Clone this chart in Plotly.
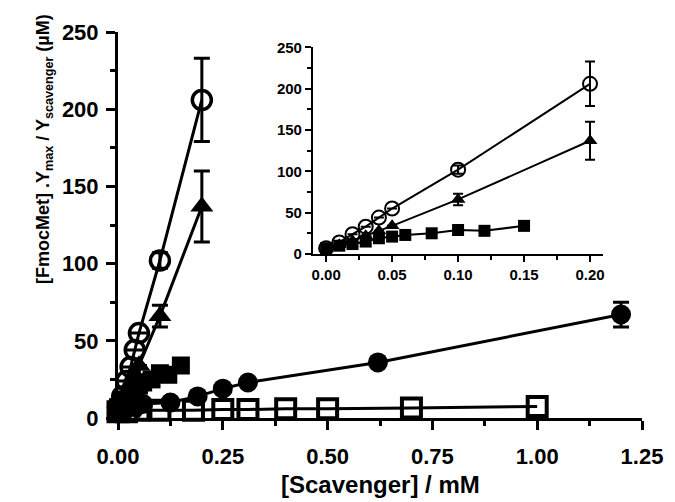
import plotly.graph_objects as go

# ---- data ----
oc_x = [0, 0.01, 0.02, 0.03, 0.04, 0.05, 0.1, 0.2]
oc_y = [7, 14, 24, 33, 44, 55, 102, 206]
oc_err = [0, 0, 0, 0, 0, 0, 5, 27]

tri_x = [0, 0.01, 0.02, 0.03, 0.04, 0.05, 0.1, 0.2]
tri_y = [6, 11, 16, 22, 28, 34, 66, 137]
tri_err = [0, 0, 0, 0, 0, 0, 7, 23]

sq_x = [0, 0.01, 0.02, 0.03, 0.04, 0.05, 0.06, 0.08, 0.1, 0.12, 0.15]
sq_y = [7, 10, 12, 15, 19, 21, 23, 25, 29, 28, 34]

fc_x = [0, 0.02, 0.04, 0.06, 0.125, 0.19, 0.25, 0.31, 0.62, 1.2]
fc_y = [5, 6, 7, 9, 10, 14, 19, 23, 36, 67]
fc_err = [0, 0, 0, 0, 0, 0, 0, 0, 0, 8]

os_x = [0, 0.02, 0.05, 0.1, 0.18, 0.25, 0.31, 0.4, 0.5, 0.7, 1.0]
os_y = [4, 4, 5, 5, 5, 5.5, 5.5, 6, 6, 6.5, 7.5]

dt_x = [0, 0.01, 0.02, 0.05]
dt_y = [3, 3.5, 4, 4.5]

main_xticks = [0, 0.25, 0.5, 0.75, 1.0, 1.25]
main_yticks = [0, 50, 100, 150, 200, 250]
inset_xticks = [0.0, 0.05, 0.10, 0.15, 0.20]
inset_yticks = [0, 50, 100, 150, 200, 250]

x_title = "[Scavenger] / mM"
y_title = "[FmocMet] .Y<sub>max</sub> / Y<sub>scavenger</sub> (µM)"

FONT = "Liberation Sans"
fig = go.Figure()


def add(x, y, sym, size, lw, err=None, mlw=3.5, xa="x", ya="y", cap=8, eth=3):
    tr = go.Scatter(
        x=x, y=y, mode="lines+markers", xaxis=xa, yaxis=ya, cliponaxis=False,
        line=dict(color="black", width=lw),
        marker=dict(symbol=sym, size=size, color="black",
                    line=dict(color="black", width=mlw)),
        showlegend=False, hoverinfo="x+y",
    )
    if err is not None:
        tr.error_y = dict(type="data", array=err, color="black", thickness=eth, width=cap, visible=True)
    fig.add_trace(tr)


# main plot
add(os_x, os_y, "square-open", 19, 3, mlw=4)
add(dt_x, dt_y, "triangle-down", 15, 3, mlw=0)
add(fc_x, fc_y, "circle", 20, 3, err=fc_err, mlw=0)
add(sq_x, sq_y, "square", 18, 3, mlw=0)
add(tri_x, tri_y, "triangle-up", 20, 3, err=tri_err, mlw=0)
add(oc_x, oc_y, "circle-open", 19, 3, err=oc_err, mlw=3.5)


# inset
def sub(xs, ys, es=None):
    idx = [i for i, v in enumerate(xs) if v <= 0.2]
    return [xs[i] for i in idx], [ys[i] for i in idx], (None if es is None else [es[i] for i in idx])


x1, y1, _ = sub(sq_x, sq_y)
add(x1, y1, "square", 12, 2, mlw=0, xa="x2", ya="y2")
x1, y1, e1 = sub(tri_x, tri_y, tri_err)
add(x1, y1, "triangle-up", 13, 2, err=e1, mlw=0, xa="x2", ya="y2", cap=5, eth=2)
x1, y1, e1 = sub(oc_x, oc_y, oc_err)
add(x1, y1, "circle-open", 14, 2, err=e1, mlw=2, xa="x2", ya="y2", cap=5, eth=2)

axis_common = dict(showline=True, linecolor="black", showgrid=False, zeroline=False,
                   ticks="outside", tickcolor="black")

# the page body adds an 8 px margin, so the figure is 8 px smaller than the window
fig.update_layout(
    width=667, height=494,
    margin=dict(l=110, r=27, t=12, b=84),
    plot_bgcolor="white", paper_bgcolor="white",
    xaxis=dict(**axis_common, range=[0, 1.25], linewidth=3, tickwidth=3, ticklen=9,
               tickvals=main_xticks, tickformat=".2f", ticklabelstandoff=8,
               tickfont=dict(family=FONT, size=22, color="black", weight="bold"),
               minor=dict(dtick=0.125, ticklen=5, tickwidth=3, ticks="outside", tickcolor="black")),
    yaxis=dict(**axis_common, range=[0, 250], linewidth=3, tickwidth=3, ticklen=9,
               tickvals=main_yticks, ticklabelstandoff=3,
               tickfont=dict(family=FONT, size=22, color="black", weight="bold"),
               minor=dict(dtick=25, ticklen=5, tickwidth=3, ticks="outside", tickcolor="black")),
    xaxis2=dict(**axis_common, domain=[0.372, 0.926], anchor="y2", range=[-0.01, 0.21],
                linewidth=2, tickwidth=2, ticklen=6, tickvals=inset_xticks, tickformat=".2f",
                tickfont=dict(family=FONT, size=15, color="black", weight="bold"),
                minor=dict(dtick=0.025, ticklen=4, tickwidth=2, ticks="outside", tickcolor="black")),
    yaxis2=dict(**axis_common, domain=[0.425, 0.96], anchor="x2", range=[0, 250],
                linewidth=2, tickwidth=2, ticklen=6, tickvals=inset_yticks,
                tickfont=dict(family=FONT, size=15, color="black", weight="bold"),
                minor=dict(dtick=25, ticklen=4, tickwidth=2, ticks="outside", tickcolor="black")),
    annotations=[
        dict(text=x_title, xref="paper", yref="paper", x=0.5, y=-0.172,
             xanchor="center", yanchor="middle", showarrow=False,
             font=dict(family=FONT, size=24, color="black", weight="bold")),
        dict(text=y_title, xref="paper", yref="paper", x=-0.1406, y=0.698,
             xanchor="center", yanchor="middle", showarrow=False, textangle=-90,
             font=dict(family=FONT, size=18, color="black", weight="bold")),
    ],
)

fig.write_html("out.html")
